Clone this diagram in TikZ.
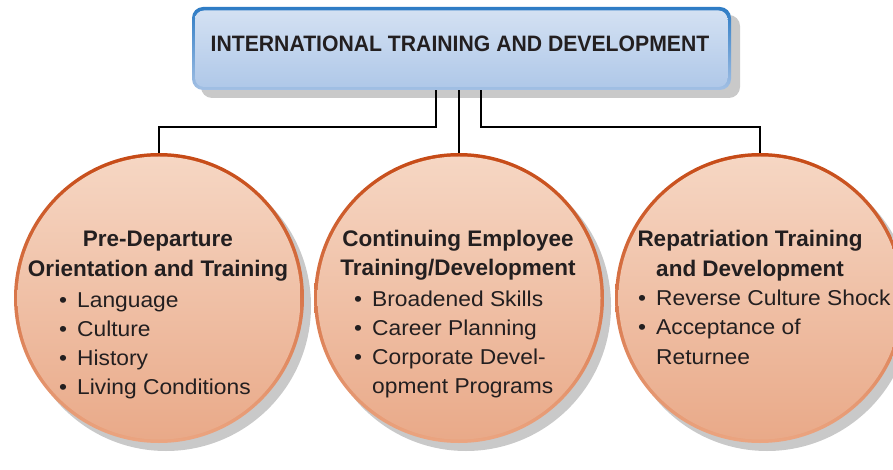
\documentclass[tikz,border=0pt]{standalone}
\usepackage{fontspec}
\setmainfont{Liberation Sans}
\newfontfamily\titlefont[FakeStretch=0.95]{Liberation Sans}
\newfontfamily\itemfam[FakeStretch=1.06]{Liberation Sans}
\usetikzlibrary{calc}
\definecolor{ink}{HTML}{231F20}
\definecolor{ringTop}{HTML}{C64A16}
\definecolor{ringBot}{HTML}{EBA581}
\definecolor{peachTop}{HTML}{F6D7C4}
\definecolor{peachBot}{HTML}{E9A988}
\definecolor{shadowc}{HTML}{C9C9C9}
\definecolor{boxRingTop}{HTML}{2E7CC5}
\definecolor{boxRingBot}{HTML}{A3C0E4}
\definecolor{boxTop}{HTML}{D5E2F3}
\definecolor{boxMid}{HTML}{CADAF0}
\definecolor{boxBot}{HTML}{AEC7E8}
\newcommand{\bul}{\makebox[18pt][l]{•}}
\tikzset{
  ball/.style={circle, minimum size=290pt, inner sep=0pt,
    top color=ringTop, bottom color=ringBot,
    path picture={\path[top color=peachTop, bottom color=peachBot]
      (path picture bounding box.center) circle[radius=141.5pt];}},
  topbox/.style={rectangle, rounded corners=11pt, minimum width=539pt,
    minimum height=83pt, inner sep=0pt,
    top color=boxRingTop, bottom color=boxRingBot,
    path picture={\path[rounded corners=9pt, top color=boxTop, middle color=boxMid, bottom color=boxBot]
      ($(path picture bounding box.north west)+(3pt,-3.5pt)$) rectangle
      ($(path picture bounding box.south east)+(-3.5pt,3pt)$);}},
  head/.style={anchor=base, inner sep=0pt, text=ink,
    font=\fontsize{22.5}{29.3}\selectfont\bfseries},
  items/.style={anchor=base west, inner sep=0pt, text=ink,
    font=\itemfam\fontsize{21.5}{29.3}\selectfont},
  conn/.style={draw=black, line width=2pt}
}
\begin{document}
\begin{tikzpicture}[x=1pt,y=-1pt]
\useasboundingbox (0,0) rectangle (893,470);
% shadows
\fill[shadowc, rounded corners=11pt] (201,15) rectangle (740,98);
\fill[shadowc] (166,306) circle[radius=145pt];
\fill[shadowc] (466,306) circle[radius=145pt];
\fill[shadowc] (767,306) circle[radius=145pt];
% top box
\node[topbox] (top) at (461.5,48.5) {};
\node[anchor=base, inner sep=0pt, text=ink,
  font=\titlefont\bfseries\fontsize{22.3}{26}\selectfont] (ttl) at (460,52)
  {INTERNATIONAL TRAINING AND DEVELOPMENT};
% circles
\node[ball] (c1) at (159,298) {};
\node[ball] (c2) at (459,298) {};
\node[ball] (c3) at (760,298) {};
% headings
\node[head] (h1) at (158,247) {\begin{tabular}[t]{@{}c@{}}Pre-Departure\\Orientation and Training\end{tabular}};
\node[head] (h2) at (458,246) {\begin{tabular}[t]{@{}c@{}}Continuing Employee\\Training/Development\end{tabular}};
\node[head] (h3) at (750,247) {\begin{tabular}[t]{@{}c@{}}Repatriation Training\\and Development\end{tabular}};
% items
\node[items] (i1) at (59,307) {\begin{tabular}[t]{@{}l@{}}\bul Language\\\bul Culture\\\bul History\\\bul Living Conditions\end{tabular}};
\node[items] (i2) at (354,306) {\begin{tabular}[t]{@{}l@{}}\bul Broadened Skills\\\bul Career Planning\\\bul Corporate Devel-\\\hspace*{18pt}opment Programs\end{tabular}};
\node[items] (i3) at (638,305.5) {\begin{tabular}[t]{@{}l@{}}\bul Reverse Culture Shock\\\bul Acceptance of\\\hspace*{18pt}Returnee\end{tabular}};
% connectors
\coordinate (l1) at (436,0);
\coordinate (l2) at (458.5,0);
\coordinate (l3) at (481,0);
\coordinate (hy) at (0,127.5);
\draw[conn] (top.south -| l1) -- (l1 |- hy) -| (c1.north);
\draw[conn] (top.south -| l2) -- (c2.north -| l2);
\draw[conn] (top.south -| l3) -- (l3 |- hy) -| (c3.north);
\end{tikzpicture}
\end{document}
